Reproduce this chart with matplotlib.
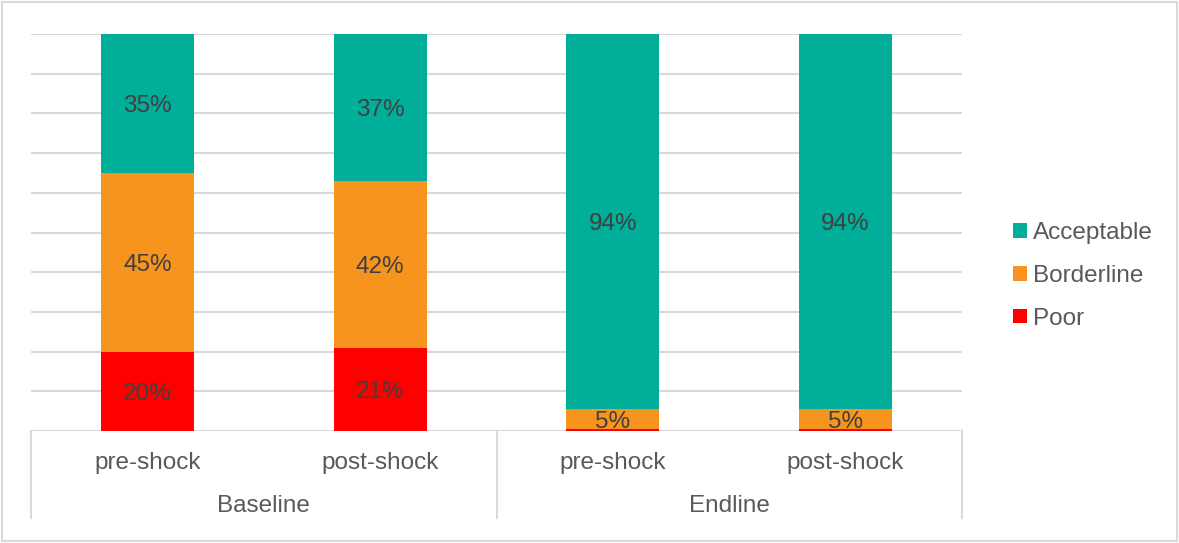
import numpy as np
import matplotlib.pyplot as plt
from matplotlib.patches import Rectangle
from matplotlib.transforms import blended_transform_factory, offset_copy

plt.rcParams["font.family"] = ["Liberation Sans", "DejaVu Sans"]

# food consumption score groups, share of households (%)
rounds = ["Baseline", "Endline"]
periods = ["pre-shock", "post-shock", "pre-shock", "post-shock"]
poor = [20, 21, 0.6, 0.6]
borderline = [45, 42, 5, 5]
acceptable = [35, 37, 94.4, 94.4]

series = [
    ("Poor", poor, "#FF0000"),
    ("Borderline", borderline, "#F7941D"),
    ("Acceptable", acceptable, "#00AE9A"),
]

GRID = "#D9D9D9"
TXT = "#595959"
FS = 17.5

fig = plt.figure(figsize=(11.79, 5.43), dpi=100)
ax = fig.add_axes([31 / 1179, 1 - 431 / 543, (962 - 31) / 1179, (431 - 34) / 543])

# data labels sit a few pixels below the segment centre
lbl_tr = offset_copy(ax.transData, fig=fig, x=0, y=-3, units="dots")

x = np.arange(len(periods))
bottom = np.zeros(len(periods))
handles = []
for name, vals, color in series:
    vals = np.array(vals, dtype=float)
    bars = ax.bar(x, vals, width=0.4, bottom=bottom, color=color, label=name, zorder=2)
    handles.append(bars)
    for xi, b, v in zip(x, bottom, vals):
        if v >= 2:
            ax.text(xi, b + v / 2, f"{v:.0f}%", ha="center", va="center",
                    fontsize=FS, color="#404040", zorder=3, transform=lbl_tr)
    bottom += vals

ax.set_xlim(-0.5, len(periods) - 0.5)
ax.set_ylim(0, 100)
for y in range(0, 101, 10):
    ax.axhline(y, color=GRID, lw=1.5, zorder=1)
for s in ax.spines.values():
    s.set_visible(False)
ax.set_yticks([])
ax.set_xticks(x)
ax.set_xticklabels(periods, fontsize=FS, color=TXT)
ax.tick_params(axis="x", length=0, pad=15)

# second category level and the separators between groups
tr = blended_transform_factory(ax.transData, ax.transAxes)
depth = (518 - 431) / 397
for sep in [-0.5, 1.5, 3.5]:
    ax.plot([sep, sep], [0, -depth], color=GRID, lw=1.5, transform=tr, clip_on=False)
for i, r in enumerate(rounds):
    ax.text(2 * i + 0.5, -0.188, r, ha="center", va="center", fontsize=FS,
            color=TXT, transform=tr)

leg = fig.legend(handles[::-1], [h.get_label() for h in handles[::-1]],
                 loc="center left", bbox_to_anchor=(1001 / 1179, 1 - 276 / 543),
                 frameon=False, fontsize=FS, handlelength=0.55, handleheight=0.55,
                 handletextpad=0.25, labelspacing=0.85, borderpad=0)
for t in leg.get_texts():
    t.set_color(TXT)

fig.patches.append(Rectangle((2 / 1179, 2 / 543), 1175 / 1179, 539 / 543,
                             transform=fig.transFigure, fill=False,
                             edgecolor=GRID, lw=1.5))

fig.savefig("out.png", dpi=100)
